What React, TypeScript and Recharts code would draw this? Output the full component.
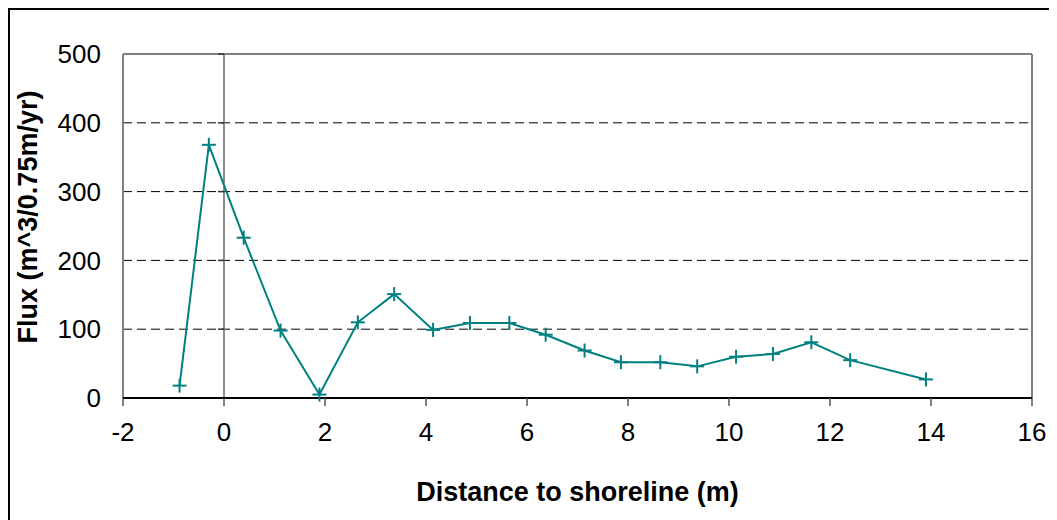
import { CartesianGrid, Line, LineChart, ReferenceLine, XAxis, YAxis } from 'recharts';

const distance = [-0.88, -0.3, 0.39, 1.12, 1.89, 2.65, 3.37, 4.14, 4.87, 5.65, 6.37, 7.14, 7.86, 8.64, 9.37, 10.14, 10.87, 11.63, 12.4, 13.9];
const flux = [18, 368, 233, 98, 5, 110, 151, 99, 109, 109, 92, 69, 52, 52, 46, 60, 64, 81, 55, 27];
const xTicks = [-2, 0, 2, 4, 6, 8, 10, 12, 14, 16];
const yTicks = [0, 100, 200, 300, 400, 500];

const data = distance.map((d, i) => ({ d, flux: flux[i] }));

const TEAL = '#008080';
const FONT = '"Liberation Sans", Arial, sans-serif';

function Cross(props: any) {
  const { cx, cy } = props;
  if (cx == null || cy == null) return null;
  return (
    <g>
      <line x1={cx - 7} y1={cy} x2={cx + 7} y2={cy} stroke={TEAL} strokeWidth={2} />
      <line x1={cx} y1={cy - 7} x2={cx} y2={cy + 7} stroke={TEAL} strokeWidth={2} />
    </g>
  );
}

export default function App() {
  return (
    <div
      style={{
        width: 1049,
        height: 512,
        borderTop: '2px solid #000',
        borderLeft: '2px solid #000',
        boxSizing: 'border-box',
        background: '#fff',
        fontFamily: FONT,
      }}
    >
      <LineChart width={1047} height={510} data={data} margin={{ top: 44, right: 25, left: 23, bottom: 62 }}>
        <CartesianGrid vertical={false} stroke="#000" strokeDasharray="9 5" horizontalValues={[100, 200, 300, 400]} />
        <XAxis
          type="number"
          dataKey="d"
          domain={[-2, 16]}
          ticks={xTicks}
          height={60}
          tickSize={8}
          tickMargin={17}
          axisLine={{ stroke: '#000', strokeWidth: 2 }}
          tickLine={{ stroke: '#555', strokeWidth: 1.5 }}
          tick={{ fill: '#000', fontSize: 26, fontFamily: FONT }}
          label={{ value: 'Distance to shoreline (m)', position: 'center', dy: 63, fill: '#000', fontSize: 27, fontWeight: 'bold', fontFamily: FONT }}
        />
        <YAxis
          type="number"
          domain={[0, 500]}
          ticks={yTicks}
          width={90}
          axisLine={false}
          tickLine={false}
          tickSize={0}
          tickMargin={22}
          tick={{ fill: '#000', fontSize: 26, fontFamily: FONT }}
          label={{ value: 'Flux (m^3/0.75m/yr)', angle: -90, position: 'center', dx: -51, dy: -9, fill: '#000', fontSize: 27, fontWeight: 'bold', fontFamily: FONT }}
        />
        <ReferenceLine y={500} stroke="#808080" strokeWidth={2} />
        <ReferenceLine x={-2} stroke="#808080" strokeWidth={2} />
        <ReferenceLine x={16} stroke="#808080" strokeWidth={2} />
        <ReferenceLine x={0} stroke="#666" strokeWidth={1.5} />
        {yTicks.slice(1).map((v) => (
          <ReferenceLine key={v} segment={[{ x: -0.12, y: v }, { x: 0, y: v }]} stroke="#333" strokeWidth={1.5} />
        ))}
        <Line
          type="linear"
          dataKey="flux"
          stroke={TEAL}
          strokeWidth={2}
          dot={<Cross />}
          activeDot={false}
          isAnimationActive={false}
        />
      </LineChart>
    </div>
  );
}
